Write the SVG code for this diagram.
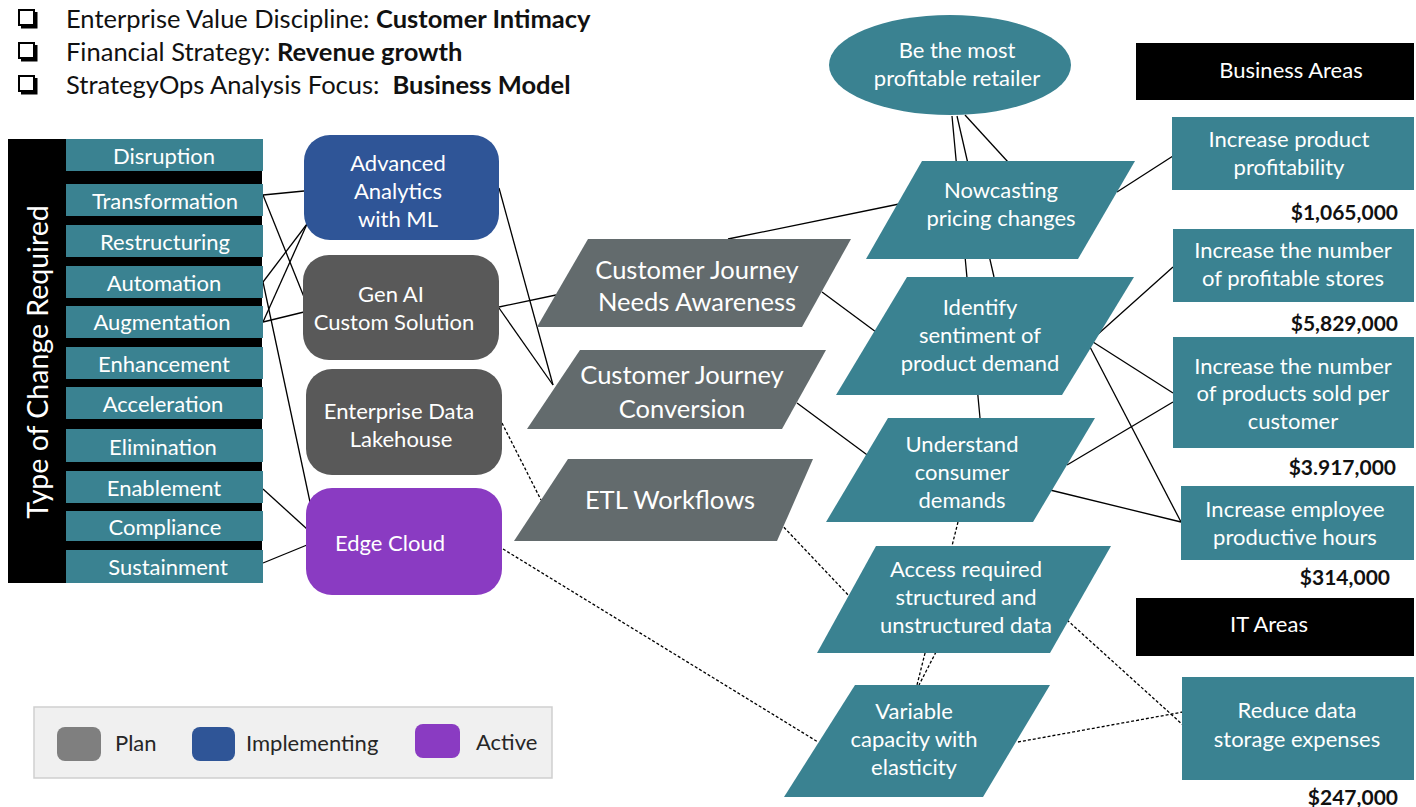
<svg xmlns="http://www.w3.org/2000/svg" width="1416" height="807" viewBox="0 0 1416 807">
<defs>
<style>
text{font-family:Lato,"Open Sans","Liberation Sans",sans-serif;}
.hdr{font-size:25.5px;fill:#111;}
.b{font-weight:bold;}
.w{fill:#fff;font-size:22px;text-anchor:middle;}
.wl{fill:#fff;font-size:25.5px;text-anchor:middle;}
.teal{fill:#3A8291;}
.grayp{fill:#636B6D;}
.cb{fill:#fff;stroke:#000;stroke-width:2;}
.amt{font-size:21px;font-weight:bold;fill:#111;text-anchor:end;}
.lg{font-size:22px;fill:#262626;}
.c{stroke:#000;stroke-width:1.3;fill:none;}
.d{stroke:#000;stroke-width:1.3;fill:none;stroke-dasharray:3 2;}
</style>
</defs>
<rect width="1416" height="807" fill="#fff"/>

<g id="header">
<rect class="cb" x="19" y="10" width="15" height="15"/><path d="M21 27 H36 V12" stroke="#000" stroke-width="3" fill="none"/>
<rect class="cb" x="19" y="43" width="15" height="15"/><path d="M21 60 H36 V45" stroke="#000" stroke-width="3" fill="none"/>
<rect class="cb" x="19" y="76" width="15" height="15"/><path d="M21 93 H36 V78" stroke="#000" stroke-width="3" fill="none"/>
<text class="hdr" x="66" y="28">Enterprise Value Discipline: <tspan class="b">Customer Intimacy</tspan></text>
<text class="hdr" x="66" y="61">Financial Strategy: <tspan class="b">Revenue growth</tspan></text>
<text class="hdr" x="66" y="94" xml:space="preserve">StrategyOps Analysis Focus:  <tspan class="b">Business Model</tspan></text>
</g>

<g id="connectors">
<line class="c" x1="263" y1="195" x2="304" y2="191"/>
<line class="c" x1="263" y1="195" x2="304" y2="297"/>
<line class="c" x1="263" y1="282" x2="307" y2="224"/>
<line class="c" x1="263" y1="322" x2="307" y2="224"/>
<line class="c" x1="263" y1="322" x2="304" y2="312"/>
<line class="c" x1="263" y1="282" x2="310" y2="502"/>
<line class="c" x1="263" y1="489" x2="307" y2="529"/>
<line class="c" x1="263" y1="563" x2="307" y2="545"/>
<line class="c" x1="499" y1="188" x2="553" y2="385"/>
<line class="c" x1="499" y1="307" x2="556" y2="295"/>
<line class="c" x1="499" y1="308" x2="553" y2="385"/>
<line class="c" x1="728" y1="239" x2="904" y2="203"/>
<line class="c" x1="822" y1="292" x2="876" y2="332"/>
<line class="c" x1="797" y1="403" x2="870" y2="457"/>
<line class="c" x1="952" y1="116" x2="980" y2="418"/>
<line class="c" x1="957" y1="116" x2="994" y2="277"/>
<line class="c" x1="965" y1="115" x2="1008" y2="162"/>
<line class="c" x1="1117" y1="192" x2="1173" y2="156"/>
<line class="c" x1="1097" y1="335" x2="1173" y2="267"/>
<line class="c" x1="1093" y1="342" x2="1173" y2="393"/>
<line class="c" x1="1090" y1="347" x2="1181" y2="522"/>
<line class="c" x1="1067" y1="465" x2="1173" y2="402"/>
<line class="c" x1="1050" y1="490" x2="1181" y2="522"/>
<line class="d" x1="958" y1="522" x2="917" y2="685"/>
<line class="d" x1="936" y1="652" x2="919" y2="685"/>
<line class="d" x1="502" y1="423" x2="541" y2="500"/>
<line class="d" x1="777" y1="520" x2="851" y2="598"/>
<line class="d" x1="503" y1="549" x2="818" y2="742"/>
<line class="d" x1="1067" y1="620" x2="1183" y2="725"/>
<line class="d" x1="1018" y1="742" x2="1183" y2="712"/>
</g>

<g id="type-of-change">
<rect x="8" y="139" width="254" height="444" fill="#000"/>
<text x="0" y="0" transform="translate(48,362) rotate(-90)" fill="#fff" font-size="28.5" text-anchor="middle">Type of Change Required</text>
</g>
<g id="disruption"><rect class="teal" x="66" y="139" width="197" height="32"/><text class="w" x="164" y="164">Disruption</text></g>
<g id="transformation"><rect class="teal" x="66" y="184" width="197" height="32"/><text class="w" x="165" y="209">Transformation</text></g>
<g id="restructuring"><rect class="teal" x="66" y="225" width="197" height="32"/><text class="w" x="165" y="250">Restructuring</text></g>
<g id="automation"><rect class="teal" x="66" y="266" width="197" height="32"/><text class="w" x="164" y="291">Automation</text></g>
<g id="augmentation"><rect class="teal" x="66" y="306" width="197" height="32"/><text class="w" x="162" y="330">Augmentation</text></g>
<g id="enhancement"><rect class="teal" x="66" y="347" width="197" height="32"/><text class="w" x="164" y="372">Enhancement</text></g>
<g id="acceleration"><rect class="teal" x="66" y="387" width="197" height="32"/><text class="w" x="163" y="412">Acceleration</text></g>
<g id="elimination"><rect class="teal" x="66" y="429" width="197" height="33"/><text class="w" x="163" y="455">Elimination</text></g>
<g id="enablement"><rect class="teal" x="66" y="471" width="197" height="32"/><text class="w" x="164" y="496">Enablement</text></g>
<g id="compliance"><rect class="teal" x="66" y="511" width="197" height="30"/><text class="w" x="165" y="535">Compliance</text></g>
<g id="sustainment"><rect class="teal" x="66" y="550" width="197" height="33"/><text class="w" x="168" y="575">Sustainment</text></g>

<g id="advanced-analytics"><rect x="304" y="135" width="195" height="105" rx="26" fill="#2F5597"/>
<text class="w" x="398" y="171">Advanced</text><text class="w" x="398" y="199">Analytics</text><text class="w" x="398" y="227">with ML</text></g>
<g id="gen-ai"><rect x="303" y="255" width="196" height="105" rx="26" fill="#595959"/>
<text class="w" x="391" y="302">Gen AI</text><text class="w" x="394" y="330">Custom Solution</text></g>
<g id="lakehouse"><rect x="306" y="369" width="196" height="106" rx="26" fill="#595959"/>
<text class="w" x="399" y="419">Enterprise Data</text><text class="w" x="401" y="447">Lakehouse</text></g>
<g id="edge-cloud"><rect x="306" y="488" width="196" height="107" rx="26" fill="#8A3BC2"/>
<text class="w" x="390" y="551" font-size="23">Edge Cloud</text></g>

<g id="cj-needs"><polygon class="grayp" points="588,239 851,239 802,327 537,327"/>
<text class="wl" x="697" y="279">Customer Journey</text><text class="wl" x="697" y="311">Needs Awareness</text></g>
<g id="cj-conversion"><polygon class="grayp" points="580,350 826,350 782,429 527,429"/>
<text class="wl" x="682" y="384">Customer Journey</text><text class="wl" x="682" y="418">Conversion</text></g>
<g id="etl"><polygon class="grayp" points="568,459 813,459 777,541 514,541"/>
<text class="wl" x="670" y="509">ETL Workflows</text></g>

<g id="goal"><ellipse class="teal" cx="950" cy="65" rx="121" ry="50"/>
<text class="w" x="957" y="58">Be the most</text><text class="w" x="957" y="86">profitable retailer</text></g>

<g id="nowcasting"><polygon class="teal" points="922,161 1135,161 1078,259 866,259"/>
<text class="w" x="1001" y="198">Nowcasting</text><text class="w" x="1001" y="226">pricing changes</text></g>
<g id="identify"><polygon class="teal" points="907,277 1134,277 1062,395 836,395"/>
<text class="w" x="980" y="315">Identify</text><text class="w" x="980" y="343">sentiment of</text><text class="w" x="980" y="371">product demand</text></g>
<g id="understand"><polygon class="teal" points="888,418 1095,418 1033,522 826,522"/>
<text class="w" x="962" y="452">Understand</text><text class="w" x="962" y="480">consumer</text><text class="w" x="962" y="508">demands</text></g>
<g id="access"><polygon class="teal" points="876,546 1111,546 1050,653 817,653"/>
<text class="w" x="966" y="577">Access required</text><text class="w" x="966" y="605">structured and</text><text class="w" x="966" y="633">unstructured data</text></g>
<g id="variable"><polygon class="teal" points="855,685 1050,685 983,797 784,797"/>
<text class="w" x="914" y="719">Variable</text><text class="w" x="914" y="747">capacity with</text><text class="w" x="914" y="775">elasticity</text></g>

<g id="business-areas"><rect x="1136" y="43" width="278" height="57" fill="#000"/>
<text class="w" x="1291" y="78">Business Areas</text></g>
<g id="product-profitability"><rect class="teal" x="1172" y="117" width="242" height="73"/>
<text class="w" x="1289" y="147">Increase product</text><text class="w" x="1289" y="175">profitability</text>
<text class="amt" x="1398" y="220">$1,065,000</text></g>
<g id="profitable-stores"><rect class="teal" x="1173" y="229" width="241" height="73"/>
<text class="w" x="1293" y="258">Increase the number</text><text class="w" x="1293" y="286">of profitable stores</text>
<text class="amt" x="1398" y="331">$5,829,000</text></g>
<g id="products-sold"><rect class="teal" x="1173" y="337" width="241" height="111"/>
<text class="w" x="1293" y="374">Increase the number</text><text class="w" x="1293" y="401">of products sold per</text><text class="w" x="1293" y="429">customer</text>
<text class="amt" x="1396" y="475">$3.917,000</text></g>
<g id="employee-hours"><rect class="teal" x="1181" y="486" width="233" height="74"/>
<text class="w" x="1295" y="517">Increase employee</text><text class="w" x="1295" y="545">productive hours</text>
<text class="amt" x="1390" y="585">$314,000</text></g>
<g id="it-areas"><rect x="1136" y="598" width="278" height="58" fill="#000"/>
<text class="w" x="1269" y="632">IT Areas</text></g>
<g id="reduce-storage"><rect class="teal" x="1182" y="677" width="232" height="103"/>
<text class="w" x="1297" y="718">Reduce data</text><text class="w" x="1297" y="747">storage expenses</text>
<text class="amt" x="1398" y="805">$247,000</text></g>

<g id="legend">
<rect x="34" y="707" width="518" height="71" fill="#F0F0F0" stroke="#CFCFCF" stroke-width="1.5"/>
<rect x="57" y="727" width="44" height="34" rx="8" fill="#7F7F7F"/>
<text class="lg" x="115" y="751">Plan</text>
<rect x="192" y="727" width="43" height="34" rx="8" fill="#2F5597"/>
<text class="lg" x="246" y="751">Implementing</text>
<rect x="415" y="724" width="45" height="34" rx="8" fill="#8A3BC2"/>
<text class="lg" x="476" y="750">Active</text>
</g>
</svg>
